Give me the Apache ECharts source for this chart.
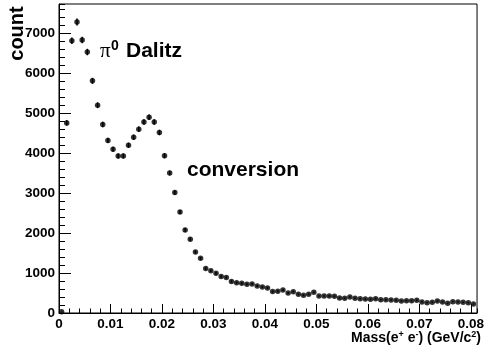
<!DOCTYPE html>
<html>
<head>
<meta charset="utf-8">
<script src="https://cdn.jsdelivr.net/npm/echarts@6/dist/echarts.min.js"></script>
<style>
html, body { margin: 0; padding: 0; background: #fff; }
#chart { width: 487px; height: 352px; }
</style>
</head>
<body>
<div id="chart"></div>
<script>
// histogram contents, bins of 1 MeV starting at 0
var binStart = 0;
var binWidth = 0.001;
var counts = [
  30, 4750, 6800, 7270, 6820, 6520, 5800, 5190, 4710, 4310,
  4090, 3925, 3925, 4190, 4390, 4590, 4770, 4890, 4770, 4510,
  3930, 3500, 3010, 2525, 2075, 1845, 1525, 1365, 1110, 1055,
  990, 910, 890, 790, 758, 742, 717, 725, 675, 650,
  625, 535, 542, 575, 500, 533, 467, 442, 467, 517,
  425, 425, 425, 417, 375, 367, 400, 367, 358, 350,
  342, 358, 333, 333, 325, 317, 300, 308, 308, 317,
  275, 258, 267, 300, 275, 242, 283, 275, 267, 258,
  225
];

var xMax = 0.0812;
var yMax = 7720;
var xMajorStep = 0.01, xMinorStep = 0.002;
var yMajorStep = 1000, yMinorStep = 200;

var points = [];
var errs = [];
for (var i = 0; i < counts.length; i++) {
  var xc = +(binStart + (i + 0.5) * binWidth).toFixed(6);
  points.push([xc, counts[i]]);
  errs.push([xc, counts[i], Math.sqrt(counts[i])]);
}

var font = 'Liberation Sans';
var chart = echarts.init(document.getElementById('chart'));

function tickAxis(pos, max, step, len, withLabels, fmt) {
  return {
    type: 'value', position: pos, min: 0, max: max, interval: step,
    axisLine: { show: withLabels, onZero: false, lineStyle: { color: '#000', width: 1 } },
    axisTick: { show: true, inside: true, length: len, lineStyle: { color: '#000', width: 1 } },
    axisLabel: withLabels ? {
      show: true, margin: 4, showMaxLabel: false,
      color: '#000', fontFamily: font, fontWeight: 'bold', fontSize: 13.5,
      formatter: fmt
    } : { show: false },
    splitLine: { show: false }
  };
}

var option = {
  animation: false,
  grid: {
    left: 59, right: 6, top: 4, bottom: 39,
    show: true, borderColor: '#000', borderWidth: 1
  },
  xAxis: [
    tickAxis('bottom', xMax, xMajorStep, 9, true, function (v) { return String(+v.toFixed(3)); }),
    tickAxis('bottom', xMax, xMinorStep, 4.5, false)
  ],
  yAxis: [
    tickAxis('left', yMax, yMajorStep, 12, true, function (v) { return String(v); }),
    tickAxis('left', yMax, yMinorStep, 6, false)
  ],
  series: [
    {
      type: 'custom',
      xAxisIndex: 0, yAxisIndex: 0,
      silent: true,
      renderItem: function (params, api) {
        var x = api.value(0), y = api.value(1), e = api.value(2);
        var a = api.coord([x, y - e]);
        var b = api.coord([x, y + e]);
        return {
          type: 'line',
          shape: { x1: a[0], y1: a[1], x2: b[0], y2: b[1] },
          style: { stroke: '#000', lineWidth: 1.5 }
        };
      },
      data: errs
    },
    {
      type: 'scatter',
      xAxisIndex: 0, yAxisIndex: 0,
      silent: true,
      symbol: 'circle',
      symbolSize: 5.5,
      itemStyle: { color: '#000' },
      data: points
    }
  ],
  graphic: [
    {
      type: 'text', x: 17.5, y: 33.5, rotation: Math.PI / 2,
      style: { text: 'count', align: 'center', verticalAlign: 'middle',
               font: 'bold 20px ' + font, fill: '#000' }
    },
    {
      type: 'text', x: 100, y: 51,
      style: { text: '\u03c0', align: 'left', verticalAlign: 'middle',
               font: '21px Liberation Serif', fill: '#000' }
    },
    {
      type: 'text', x: 111, y: 46,
      style: { text: '0', align: 'left', verticalAlign: 'middle',
               font: 'bold 14px ' + font, fill: '#000' }
    },
    {
      type: 'text', x: 126, y: 51,
      style: { text: 'Dalitz', align: 'left', verticalAlign: 'middle',
               font: 'bold 21px ' + font, fill: '#000' }
    },
    {
      type: 'text', x: 187, y: 170,
      style: { text: 'conversion', align: 'left', verticalAlign: 'middle',
               font: 'bold 21px ' + font, fill: '#000' }
    },
    {
      type: 'text', x: 481, y: 338,
      style: {
        text: '{n|Mass(e}{s|+}{n| e}{s|-}{n|) (GeV/c}{s|2}{n|)}',
        align: 'right', verticalAlign: 'middle',
        rich: {
          n: { font: 'bold 14px ' + font, fill: '#000', color: '#000' },
          s: { font: 'bold 9px ' + font, fill: '#000', color: '#000', padding: [0, 0, 6, 0] }
        }
      }
    }
  ]
};

chart.setOption(option);
window.addEventListener('resize', chart.resize);
</script>
</body>
</html>
